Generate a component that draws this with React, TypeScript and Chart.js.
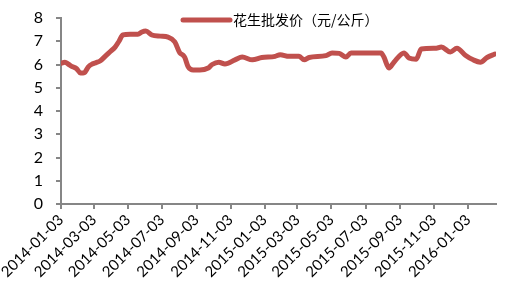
import React, { useEffect, useRef } from 'react';
import { Chart, registerables } from 'chart.js';

Chart.register(...registerables);

const seriesName = '花生批发价（元/公斤）';

const dates = [
  '2014-01-03', '2014-01-10', '2014-01-17', '2014-01-24', '2014-01-31', '2014-02-07', '2014-02-14',
  '2014-02-21', '2014-02-28', '2014-03-07', '2014-03-14', '2014-03-24', '2014-04-01', '2014-04-10',
  '2014-04-17', '2014-04-24', '2014-05-07', '2014-05-21', '2014-05-28', '2014-06-04', '2014-06-15',
  '2014-06-30', '2014-07-14', '2014-07-26', '2014-08-04', '2014-08-10', '2014-08-13', '2014-08-19',
  '2014-08-28', '2014-09-09', '2014-09-24', '2014-10-01', '2014-10-13', '2014-10-24', '2014-11-11',
  '2014-11-24', '2014-12-12', '2014-12-29', '2015-01-22', '2015-01-31', '2015-02-16', '2015-03-06',
  '2015-03-15', '2015-03-24', '2015-04-23', '2015-05-04', '2015-05-17', '2015-05-29', '2015-06-07',
  '2015-07-09', '2015-07-31', '2015-08-05', '2015-08-14', '2015-08-23', '2015-09-10', '2015-09-19',
  '2015-10-02', '2015-10-11', '2015-11-07', '2015-11-16', '2015-12-02', '2015-12-14', '2015-12-29',
  '2016-01-12', '2016-01-25', '2016-02-06', '2016-02-20',
];

const prices = [
  6.05, 6.1, 6.0, 5.9, 5.82, 5.63, 5.65,
  5.9, 6.02, 6.08, 6.15, 6.37, 6.55, 6.75,
  7.0, 7.27, 7.3, 7.3, 7.4, 7.44, 7.27,
  7.22, 7.18, 6.97, 6.5, 6.4, 6.3, 5.9,
  5.76, 5.76, 5.85, 6.0, 6.1, 6.02, 6.2,
  6.32, 6.2, 6.3, 6.35, 6.42, 6.35, 6.35,
  6.2, 6.3, 6.38, 6.5, 6.48, 6.32, 6.5,
  6.5, 6.5, 6.32, 5.85, 6.1, 6.5, 6.28,
  6.23, 6.67, 6.7, 6.75, 6.54, 6.7, 6.4,
  6.2, 6.1, 6.3, 6.45,
];

const xTickLabels = [
  '2014-01-03', '2014-03-03', '2014-05-03', '2014-07-03', '2014-09-03', '2014-11-03', '2015-01-03',
  '2015-03-03', '2015-05-03', '2015-07-03', '2015-09-03', '2015-11-03', '2016-01-03',
];
const xStart = '2014-01-03';
const xEnd = '2016-02-22';
const yMin = 0;
const yMax = 8;
const yStep = 1;

const BASE = Date.UTC(2014, 0, 3);
const dayOf = (s: string) => {
  const [y, m, d] = s.split('-').map(Number);
  return Math.round((Date.UTC(y, m - 1, d) - BASE) / 86400000);
};

const RED = '#C0504D';
const AXIS = '#868686';
const LEGEND_FONT = '14px "Noto Sans CJK SC", "Noto Sans", sans-serif';

const legendPlugin = {
  id: 'insideLegend',
  afterDraw(chart: any) {
    const { ctx, chartArea } = chart;
    const ds = chart.data.datasets[0];
    const x0 = chartArea.left + 122;
    const x1 = x0 + 47;
    const y = chartArea.top + 2;
    ctx.save();
    ctx.strokeStyle = ds.borderColor;
    ctx.lineWidth = 5;
    ctx.lineCap = 'round';
    ctx.beginPath();
    ctx.moveTo(x0, y);
    ctx.lineTo(x1, y);
    ctx.stroke();
    ctx.fillStyle = '#000';
    ctx.font = LEGEND_FONT;
    ctx.textBaseline = 'middle';
    ctx.textAlign = 'left';
    ctx.fillText(ds.label, x1 + 3, y);
    ctx.restore();
  },
};

export default function App() {
  const ref = useRef<HTMLCanvasElement | null>(null);
  useEffect(() => {
    document.body.style.margin = '0';
    if (!ref.current) return;
    const tickDays = xTickLabels.map(dayOf);
    const labelByDay = new Map<number, string>();
    xTickLabels.forEach((l) => labelByDay.set(dayOf(l), l));
    const chart = new Chart(ref.current, {
      type: 'line',
      data: {
        datasets: [
          {
            label: seriesName,
            data: dates.map((d, i) => ({ x: dayOf(d), y: prices[i] })),
            borderColor: RED,
            backgroundColor: RED,
            borderWidth: 5,
            pointRadius: 0,
            borderJoinStyle: 'round',
            borderCapStyle: 'round',
            cubicInterpolationMode: 'monotone',
          },
        ],
      },
      options: {
        animation: false,
        responsive: false,
        layout: { padding: { top: 18, right: 9, left: 0, bottom: 0 } },
        plugins: {
          tooltip: { enabled: false },
          legend: { display: false },
        },
        scales: {
          x: {
            type: 'linear',
            min: dayOf(xStart),
            max: dayOf(xEnd),
            afterBuildTicks: (scale: any) => {
              scale.ticks = tickDays.map((v) => ({ value: v }));
            },
            afterFit: (scale: any) => {
              scale.height = 102;
            },
            ticks: {
              autoSkip: false,
              minRotation: 45,
              maxRotation: 45,
              padding: 2,
              color: '#000',
              font: { family: 'Lato, "Liberation Sans", sans-serif', size: 15 },
              callback: (v: any) => labelByDay.get(Number(v)) ?? '',
            },
            grid: {
              display: true,
              drawOnChartArea: false,
              drawTicks: true,
              tickLength: 5,
              color: AXIS,
              lineWidth: 2,
            },
            border: { display: true, color: AXIS, width: 2 },
          },
          y: {
            min: yMin,
            max: yMax,
            afterFit: (scale: any) => {
              scale.width = 61;
              scale.paddingTop = 0;
              scale.paddingBottom = 0;
            },
            ticks: {
              stepSize: yStep,
              padding: 13,
              color: '#000',
              font: { family: 'Lato, "Liberation Sans", sans-serif', size: 16 },
            },
            grid: {
              display: true,
              drawOnChartArea: false,
              drawTicks: true,
              tickLength: 5,
              color: AXIS,
              lineWidth: 2,
            },
            border: { display: true, color: AXIS, width: 2 },
          },
        },
      },
      plugins: [legendPlugin],
    });
    return () => chart.destroy();
  }, []);
  return (
    <div style={{ width: 505, height: 306 }}>
      <canvas ref={ref} width={505} height={306} />
    </div>
  );
}
